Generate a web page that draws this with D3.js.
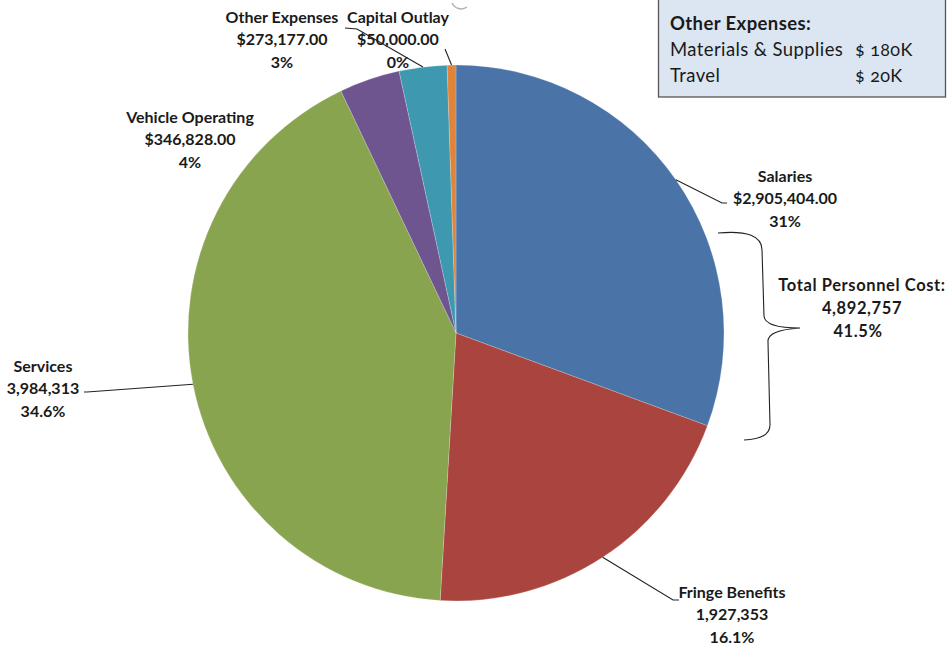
<!DOCTYPE html>
<html><head><meta charset="utf-8">
<script src="https://cdn.jsdelivr.net/npm/d3@7"></script>
<style>
html,body{margin:0;padding:0;background:#fff;}
svg{display:block;}
text{font-family:Lato,"Open Sans",sans-serif;fill:#1a1a1a;}
.lbl{font-weight:700;font-size:16px;}
</style></head>
<body>
<svg id="c" width="950" height="649"></svg>
<script>
const categories = ["Salaries","Fringe Benefits","Services","Vehicle Operating","Other Expenses","Capital Outlay"];
const values = [2905404,1927353,3984313,346828,273177,50000];
const valueLabels = ["$2,905,404.00","1,927,353","3,984,313","$346,828.00","$273,177.00","$50,000.00"];
const percentLabels = ["31%","16.1%","34.6%","4%","3%","0%"];
const colors = ["#4A74A8","#A9443F","#89A44E","#6F5590","#3E99B0","#E0843A"];
const personnelLines = ["Total Personnel Cost:","4,892,757","41.5%"];
const otherTitle = "Other Expenses:";
const otherItems = ["Materials & Supplies","Travel"];
const otherAmounts = ["$ 180K","$ 20K"];

// layout (not data)
const cx = 456, cy = 333, R = 268;
const labelPos = [[785,176],[732,592],[43,366],[190,117],[282,17],[398,17]];
const elbows = [[[722,203],[727,203]],[[673,600],[679,600]],[[87,392],[84,392]],null,[[357,29],[345,28]],[[445,49]]];
const lineH = 22.5;

const svg = d3.select("#c");
const g = svg.append("g").attr("transform",`translate(${cx},${cy})`);
const pie = d3.pie().sort(null).value(d=>d)(values);
const arc = d3.arc().innerRadius(0).outerRadius(R);
g.selectAll("path.s").data(pie).join("path").attr("class","s")
  .attr("d",arc).attr("fill",(d,i)=>colors[i])
  .attr("stroke","#ffffff").attr("stroke-opacity",0.4).attr("stroke-width",0.5);

// leader lines
pie.forEach((d,i)=>{
  if(!elbows[i]) return;
  const a = (d.startAngle+d.endAngle)/2;
  const p0 = [cx + R*Math.sin(a), cy - R*Math.cos(a)];
  const pts = [p0].concat(elbows[i]);
  svg.append("path").attr("d",d3.line()(pts)).attr("fill","none")
    .attr("stroke","#222").attr("stroke-width",1.1);
});

// labels
categories.forEach((c,i)=>{
  const [x,y] = labelPos[i];
  const t = svg.append("text").attr("class","lbl").attr("text-anchor","middle");
  [c,valueLabels[i],percentLabels[i]].forEach((s,k)=>{
    t.append("tspan").attr("x",x).attr("y",y+k*lineH).attr("dy","0.35em").text(s);
  });
});

// personnel brace
svg.append("path")
  .attr("d","M718,233 Q762,229 762,250 L764,316 Q765,328 800,328 Q767,330 768,342 L770,425 Q770,439 744,440")
  .attr("fill","none").attr("stroke","#222").attr("stroke-width",1.1);
const pt = svg.append("text").attr("class","lbl").attr("text-anchor","middle")
  .style("font-size","16.5px").style("letter-spacing","0.6px");
personnelLines.forEach((s,k)=>{
  pt.append("tspan").attr("x",k===2?858:862).attr("y",285+k*23).attr("dy","0.35em").text(s);
});

// other expenses box
svg.append("rect").attr("x",658.5).attr("y",-1).attr("width",287).attr("height",98)
  .attr("fill","#DCE6F2").attr("stroke","#555").attr("stroke-width",1.3);
svg.append("text").attr("x",670).attr("y",24).attr("dy","0.35em")
  .style("font-weight","700").style("font-size","18.5px").style("letter-spacing","0.4px").text(otherTitle);
otherItems.forEach((s,k)=>{
  svg.append("text").attr("x",670).attr("y",50+k*25.5).attr("dy","0.35em")
    .style("font-size","18.5px").style("letter-spacing","0.4px").text(s);
  svg.append("text").attr("x",855).attr("y",50+k*25.5).attr("dy","0.35em")
    .style("font-size","18px").style("letter-spacing","0.4px").style("font-variant-numeric","oldstyle-nums").text(otherAmounts[k]);
});

// small grey artifact arc at top
svg.append("path").attr("d","M452,3 A10,10 0 0 0 467,7").attr("fill","none")
  .attr("stroke","#b0b0b0").attr("stroke-width",1.5);
</script>
</body></html>
